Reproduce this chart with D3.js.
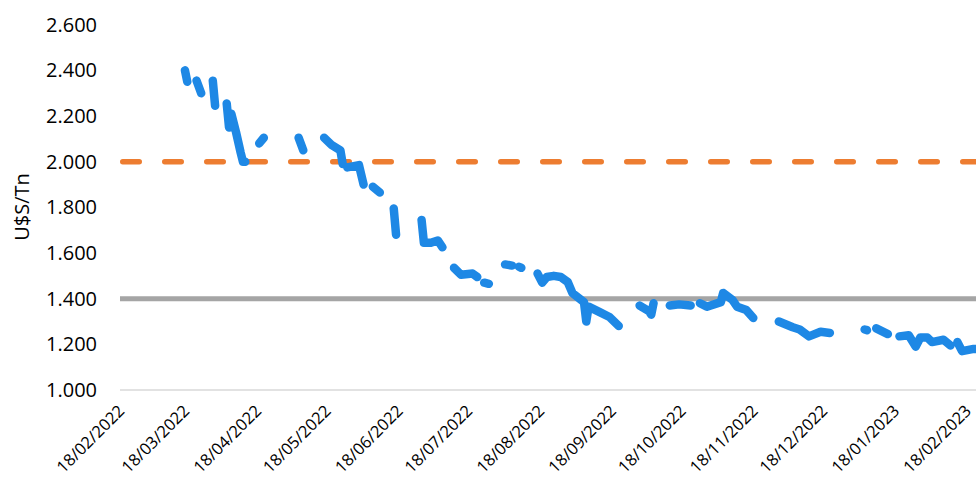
<!DOCTYPE html>
<meta charset="utf-8">
<style>
  body { margin: 0; background: #fff; }
  text { font-family: "Open Sans", sans-serif; fill: #000; }
</style>
<svg width="976" height="477"></svg>
<script src="https://d3js.org/d3.v7.min.js"></script>
<script>
// daily price, null = no value (gap in the line)
var fechas = [
  "2022-03-18","2022-03-19",null,
  "2022-03-23","2022-03-25",null,
  "2022-03-30","2022-03-31",null,
  "2022-04-05","2022-04-06","2022-04-07","2022-04-09","2022-04-11","2022-04-12","2022-04-13",null,
  "2022-04-19","2022-04-21",null,
  "2022-05-06","2022-05-08",null,
  "2022-05-17","2022-05-20","2022-05-24","2022-05-25",null,
  "2022-05-27","2022-06-01","2022-06-03",null,
  "2022-06-07","2022-06-10",null,
  "2022-06-16","2022-06-17",null,
  "2022-06-28","2022-06-29","2022-07-02","2022-07-05","2022-07-07",null,
  "2022-07-12","2022-07-15","2022-07-20","2022-07-22",null,
  "2022-07-25","2022-07-27",null,
  "2022-08-03","2022-08-06",null,
  "2022-08-09","2022-08-10",null,
  "2022-08-17","2022-08-19","2022-08-21","2022-08-24","2022-08-27","2022-08-30","2022-09-01","2022-09-06","2022-09-07","2022-09-08","2022-09-13","2022-09-17","2022-09-21",null,
  "2022-09-30","2022-10-04","2022-10-05","2022-10-06",null,
  "2022-10-13","2022-10-17","2022-10-22",null,
  "2022-10-26","2022-10-29","2022-11-04","2022-11-05","2022-11-09","2022-11-11","2022-11-15","2022-11-18",null,
  "2022-11-29","2022-12-05","2022-12-08","2022-12-12","2022-12-17","2022-12-21",null,
  "2023-01-05","2023-01-06",null,
  "2023-01-10","2023-01-15",null,
  "2023-01-20","2023-01-24","2023-01-27","2023-01-29","2023-02-01","2023-02-03","2023-02-08","2023-02-11",null,
  "2023-02-14","2023-02-16","2023-02-21","2023-02-22"
];
var precios = [
  2400,2350,null,
  2355,2300,null,
  2355,2245,null,
  2255,2150,2210,2130,2040,2000,2000,null,
  2080,2105,null,
  2105,2050,null,
  2105,2075,2050,1990,null,
  1975,1985,1900,null,
  1890,1865,null,
  1795,1680,null,
  1745,1645,1645,1655,1625,null,
  1535,1505,1510,1495,null,
  1470,1465,null,
  1550,1545,null,
  1540,1535,null,
  1510,1470,1495,1500,1495,1473,1425,1385,1300,1365,1340,1320,1280,null,
  1370,1345,1330,1380,null,
  1370,1375,1370,null,
  1380,1365,1385,1425,1395,1365,1350,1315,null,
  1300,1275,1265,1235,1255,1250,null,
  1265,1262,null,
  1270,1245,null,
  1235,1240,1190,1230,1230,1210,1220,1195,null,
  1210,1170,1180,1180
];
var nivelNaranja = 2000;   // dashed reference
var nivelGris = 1400;      // solid reference
var yTicks = [1000, 1200, 1400, 1600, 1800, 2000, 2200, 2400, 2600];
var xTicks = ["2022-02-18","2022-03-18","2022-04-18","2022-05-18","2022-06-18","2022-07-18",
              "2022-08-18","2022-09-18","2022-10-18","2022-11-18","2022-12-18","2023-01-18","2023-02-18"];
var xInicio = "2022-02-18", xFin = "2023-02-22";

var parse = d3.timeParse("%Y-%m-%d");
var fmtFecha = d3.timeFormat("%d/%m/%Y");
var fmtNum = d3.formatLocale({decimal: ",", thousands: ".", grouping: [3], currency: ["$", ""]}).format(",.0f");

var svg = d3.select("svg");

var x = d3.scaleTime()
  .domain([parse(xInicio), parse(xFin)])
  .range([120, 976]);

var y = d3.scaleLinear()
  .domain([1000, 2600])
  .range([390, 24.7]);

var data = fechas.map(function(f, i) {
  return { date: f ? parse(f) : null, v: precios[i] };
});

// base line at 1.000
svg.append("line")
  .attr("x1", x.range()[0]).attr("x2", x.range()[1])
  .attr("y1", y(1000)).attr("y2", y(1000))
  .attr("stroke", "#d9d9d9").attr("stroke-width", 1.3);

// y axis labels
var yAxis = svg.append("g")
  .attr("transform", "translate(120,0)")
  .call(d3.axisLeft(y).tickValues(yTicks).tickFormat(fmtNum).tickSize(0).tickPadding(23));
yAxis.select(".domain").remove();
yAxis.selectAll("text").style("font-size", "20px").style("font-family", "Open Sans").attr("fill", "#000");

// x axis labels
var xAxis = svg.append("g")
  .attr("transform", "translate(0,390)")
  .call(d3.axisBottom(x).tickValues(xTicks.map(parse)).tickFormat(fmtFecha).tickSize(0));
xAxis.select(".domain").remove();
xAxis.selectAll("text")
  .style("font-size", "16.5px").style("font-family", "Open Sans").attr("fill", "#000")
  .attr("text-anchor", "end")
  .attr("dy", null)
  .attr("y", 0)
  .attr("transform", "translate(5,22) rotate(-45)");

// axis title
svg.append("text")
  .attr("transform", "translate(29,207) rotate(-90)")
  .attr("text-anchor", "middle")
  .style("font-size", "20px")
  .text("U$S/Tn");

// grey reference
svg.append("line")
  .attr("x1", x.range()[0]).attr("x2", x.range()[1])
  .attr("y1", y(nivelGris)).attr("y2", y(nivelGris))
  .attr("stroke", "#a5a5a5").attr("stroke-width", 5);

// orange dashed reference
svg.append("line")
  .attr("x1", x.range()[0]).attr("x2", x.range()[1])
  .attr("y1", y(nivelNaranja)).attr("y2", y(nivelNaranja))
  .attr("stroke", "#ed7d31").attr("stroke-width", 5.5)
  .attr("stroke-linecap", "round")
  .attr("stroke-dasharray", "16.5,25.5")
  .attr("stroke-dashoffset", -2.75);

// price line
var line = d3.line()
  .defined(function(d) { return d.v != null; })
  .x(function(d) { return x(d.date); })
  .y(function(d) { return y(d.v); });

svg.append("path")
  .datum(data)
  .attr("d", line)
  .attr("fill", "none")
  .attr("stroke", "#1e88e5")
  .attr("stroke-width", 8.5)
  .attr("stroke-linecap", "round")
  .attr("stroke-linejoin", "round");
</script>
